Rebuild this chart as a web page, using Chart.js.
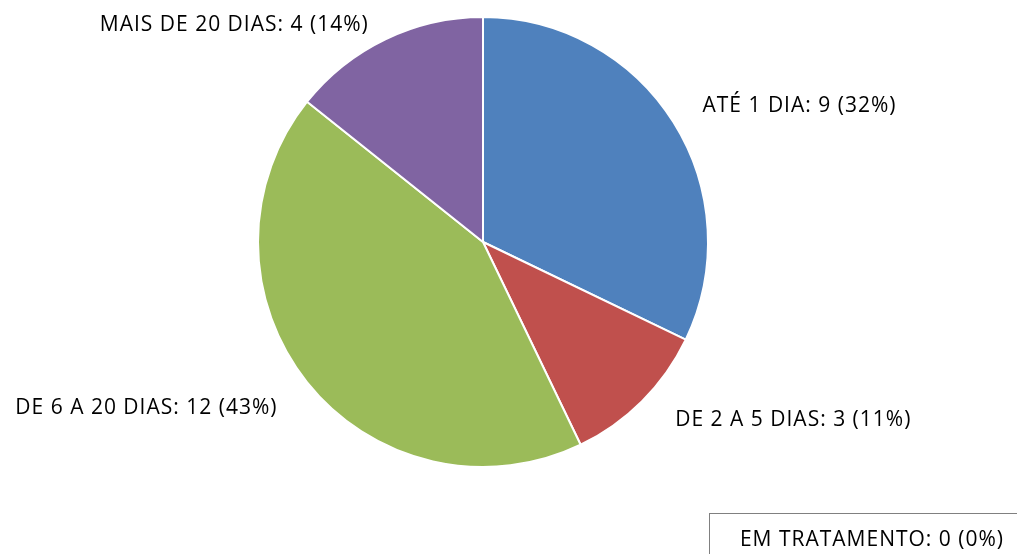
<!DOCTYPE html>
<html>
<head>
<meta charset="utf-8">
<script src="https://cdn.jsdelivr.net/npm/chart.js@4/dist/chart.umd.min.js"></script>
<style>
html,body{margin:0;padding:0;background:#fff;}
#wrap{width:1017px;height:554px;position:relative;}
</style>
</head>
<body>
<div id="wrap"><canvas id="c" width="1017" height="554"></canvas></div>
<script>
const categories = ["ATÉ 1 DIA", "DE 2 A 5 DIAS", "DE 6 A 20 DIAS", "MAIS DE 20 DIAS", "EM TRATAMENTO"];
const values = [9, 3, 12, 4, 0];
const colors = ["#4F81BD", "#C0504D", "#9BBB59", "#8064A2", "#4BACC6"];

const total = values.reduce((a, b) => a + b, 0);
const labelText = i => categories[i] + ": " + values[i] + " (" + Math.round(values[i] * 100 / total) + "%)";
const FONT = "21px 'Open Sans', Lato, sans-serif";

const labelPlugin = {
  id: 'outLabels',
  afterDraw(chart) {
    const ctx = chart.ctx;
    const meta = chart.getDatasetMeta(0);
    ctx.save();
    ctx.font = FONT;
    if ('letterSpacing' in ctx) ctx.letterSpacing = "1px";
    ctx.fillStyle = "#000";
    ctx.textBaseline = "middle";
    meta.data.forEach((arc, i) => {
      if (values[i] === 0) return;
      const p = arc.getProps(['startAngle', 'endAngle', 'outerRadius', 'x', 'y'], true);
      const mid = (p.startAngle + p.endAngle) / 2;
      const r = p.outerRadius + 20;
      const cx = Math.cos(mid), cy = Math.sin(mid);
      let x = p.x + cx * r, y = p.y + cy * r;
      if (cx >= 0) {
        ctx.textAlign = "left"; x += cy > 0 ? 19 : 12; y += cy > 0 ? 5 : -6;
      } else {
        ctx.textAlign = "right"; x -= cy > 0 ? 14 : 8; y += cy > 0 ? 13 : 4;
      }
      ctx.fillText(labelText(i), x, y);
    });
    // zero-value item box
    values.forEach((v, i) => {
      if (v !== 0) return;
      const bx = chart.width - 308, by = chart.height - 41;
      ctx.strokeStyle = "#808080";
      ctx.lineWidth = 1;
      ctx.strokeRect(bx + 0.5, by + 0.5, 400, 100);
      ctx.textAlign = "center";
      ctx.fillText(labelText(i), bx + 163, by + 27);
    });
    ctx.restore();
  }
};

new Chart(document.getElementById('c'), {
  type: 'pie',
  data: {
    labels: categories,
    datasets: [{
      data: values,
      backgroundColor: colors,
      borderColor: "#ffffff",
      borderWidth: 2
    }]
  },
  options: {
    responsive: false,
    animation: false,
    events: [],
    layout: { padding: { top: 16, bottom: 86, left: 257, right: 308 } },
    plugins: { legend: { display: false }, tooltip: { enabled: false } }
  },
  plugins: [labelPlugin]
});
</script>
</body>
</html>
